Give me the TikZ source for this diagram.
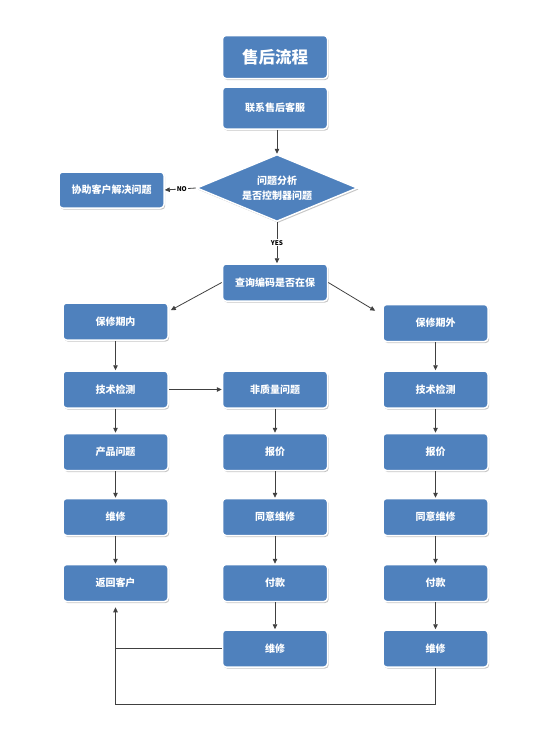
\documentclass[tikz,border=0pt]{standalone}
\usepackage{fontspec}
\setmainfont{Noto Sans CJK SC}
\usetikzlibrary{shapes.geometric,arrows.meta,shadows,calc}
\definecolor{boxblue}{HTML}{4F81BD}
\definecolor{linegray}{HTML}{404040}
\tikzset{
  box/.style={rectangle, rounded corners=3.5pt, fill=boxblue, draw=white, line width=1.5pt,
    minimum width=105pt, minimum height=37pt, text=white, font=\bfseries\fontsize{10}{12}\selectfont,
    drop shadow={shadow xshift=1.2pt, shadow yshift=-1.5pt, fill=black!45, opacity=0.5}},
  dec/.style={diamond, fill=boxblue, draw=white, line width=1.5pt, aspect=2.4,
    minimum width=161pt, minimum height=67pt, inner sep=1pt, text=white, align=center,
    font=\bfseries\fontsize{10}{15}\selectfont,
    drop shadow={shadow xshift=1.2pt, shadow yshift=-1.5pt, fill=black!45, opacity=0.5}},
  conn/.style={draw=linegray, line width=0.8pt, -{Triangle[length=5pt,width=4.5pt]}},
  plain/.style={draw=linegray, line width=0.8pt},
  lbl/.style={fill=white, inner sep=1pt, text=black, font=\bfseries\fontsize{6.5}{7}\selectfont}
}
\begin{document}
\begin{tikzpicture}[x=1pt,y=-1pt]
\useasboundingbox (0,0) rectangle (546,756);
% top
\node[box, minimum height=43pt, font=\bfseries\fontsize{16.5}{18}\selectfont] (title) at (275,57) {售后流程};
\node[box, minimum height=42pt] (contact) at (275,108) {联系售后客服};
\node[dec] (dia) at (277,188) {问题分析\\是否控制器问题};
\node[box, minimum width=105pt, minimum height=36pt] (help) at (111.5,190) {协助客户解决问题};
\node[box] (query) at (275,282.5) {查询编码是否在保};
% left column
\node[box] (lin) at (115.5,321.5) {保修期内};
\node[box] (ltech) at (115.5,389.5) {技术检测};
\node[box] (lprod) at (115.5,452) {产品问题};
\node[box] (lrep) at (115.5,517) {维修};
\node[box] (ret) at (115.5,583) {返回客户};
% middle column
\node[box] (mnq) at (275,389.5) {非质量问题};
\node[box] (mquote) at (275,452) {报价};
\node[box] (magree) at (275,517) {同意维修};
\node[box] (mpay) at (275,583) {付款};
\node[box] (mrep) at (275,648.5) {维修};
% right column
\node[box] (rout) at (435.5,323) {保修期外};
\node[box] (rtech) at (435.5,389.5) {技术检测};
\node[box] (rquote) at (435.5,452) {报价};
\node[box] (ragree) at (435.5,517) {同意维修};
\node[box] (rpay) at (435.5,583) {付款};
\node[box] (rrep) at (435.5,648.5) {维修};
% connectors
\draw[conn] (contact.south -| dia.north) -- (dia.north);
\draw[conn] (dia.west) -- node[lbl, pos=0.45] {NO} (help.east);
\draw[conn] (dia.south) -- node[lbl, pos=0.5] {YES} (query.north -| dia.south);
\draw[conn] (query.west) -- ([xshift=2pt,yshift=-8pt]lin.north east);
\draw[conn] (query.east) -- ([xshift=-7pt,yshift=-7pt]rout.north west);
\draw[conn] (lin) -- (ltech);
\draw[conn] (ltech) -- (lprod);
\draw[conn] (lprod) -- (lrep);
\draw[conn] (lrep) -- (ret);
\draw[conn] (ltech) -- (mnq);
\draw[conn] (mnq) -- (mquote);
\draw[conn] (mquote) -- (magree);
\draw[conn] (magree) -- (mpay);
\draw[conn] (mpay) -- (mrep);
\draw[conn] (rout) -- (rtech);
\draw[conn] (rtech) -- (rquote);
\draw[conn] (rquote) -- (ragree);
\draw[conn] (ragree) -- (rpay);
\draw[conn] (rpay) -- (rrep);
\draw[conn] (mrep.west) -| ([yshift=-5pt]ret.south);
\coordinate (bot) at (435.5,704);
\draw[plain] (rrep.south) -- (bot) -| (ret.south |- mrep.west);
\end{tikzpicture}
\end{document}
